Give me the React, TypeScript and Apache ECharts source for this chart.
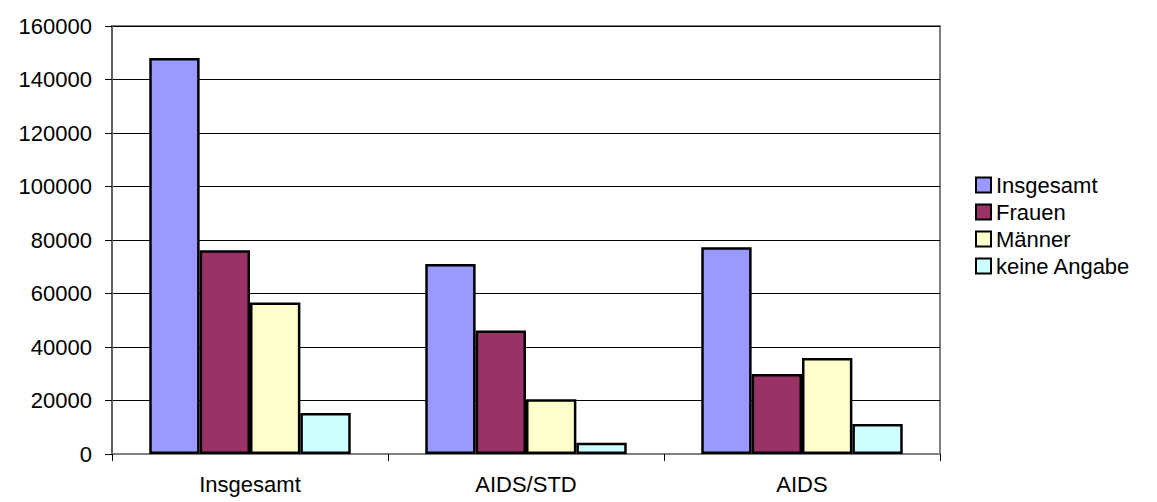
import React, { useEffect, useRef } from "react";
import * as echarts from "echarts";

const categories = ["Insgesamt", "AIDS/STD", "AIDS"];
const seriesNames = ["Insgesamt", "Frauen", "Männer", "keine Angabe"];
const insgesamt = [148000, 71000, 77300];
const frauen = [76200, 46200, 29900];
const maenner = [56600, 20500, 35900];
const keineAngabe = [15300, 4200, 11200];
const colors = ["#9999FF", "#993366", "#FFFFCC", "#CCFFFF"];
const yTicks = [0, 20000, 40000, 60000, 80000, 100000, 120000, 140000, 160000];

const FONT = "'Liberation Sans', Arial, sans-serif";
const FS = 22;

export default function App() {
  const ref = useRef<HTMLDivElement>(null);
  useEffect(() => {
    if (!ref.current) return;
    const chart = echarts.init(ref.current, undefined, { renderer: "svg" });
    const values = [insgesamt, frauen, maenner, keineAngabe];
    chart.setOption({
      animation: false,
      backgroundColor: "#ffffff",
      textStyle: { fontFamily: FONT },
      grid: {
        left: 112,
        right: 217,
        top: 26,
        bottom: 48,
        show: true,
        borderColor: "#808080",
        borderWidth: 2,
        backgroundColor: "transparent",
      },
      legend: {
        orient: "vertical",
        left: 975,
        top: 174,
        padding: 0,
        itemWidth: 15,
        itemHeight: 15,
        itemGap: 5,
        icon: "rect",
        data: seriesNames,
        textStyle: { fontFamily: FONT, fontSize: FS, color: "#000" },
        itemStyle: { borderColor: "#000", borderWidth: 2 },
      },
      xAxis: {
        type: "category",
        data: categories,
        boundaryGap: true,
        axisLine: { show: true, lineStyle: { color: "#808080", width: 2 } },
        axisTick: { show: true, length: 7, lineStyle: { color: "#000", width: 1 } },
        axisLabel: { fontFamily: FONT, fontSize: FS, color: "#000", margin: 19 },
        splitLine: { show: false },
      },
      yAxis: {
        type: "value",
        min: 0,
        max: yTicks[yTicks.length - 1],
        interval: 20000,
        axisLine: { show: true, lineStyle: { color: "#606060", width: 2 } },
        axisTick: { show: true, length: 7, lineStyle: { color: "#000", width: 1 } },
        axisLabel: {
          fontFamily: FONT,
          fontSize: FS,
          color: "#000",
          margin: 20,
          formatter: (v: number) => String(v),
        },
        splitLine: { show: true, lineStyle: { color: "#000", width: 1 } },
      },
      series: seriesNames.map((name, i) => ({
        name,
        type: "bar",
        data: values[i],
        barGap: "0%",
        barCategoryGap: "27%",
        itemStyle: { color: colors[i], borderColor: "#000", borderWidth: 2.5 },
      })),
    });
    return () => chart.dispose();
  }, []);
  return (
    <div
      ref={ref}
      style={{ position: "fixed", left: 0, top: 0, width: 1157, height: 502 }}
    />
  );
}
